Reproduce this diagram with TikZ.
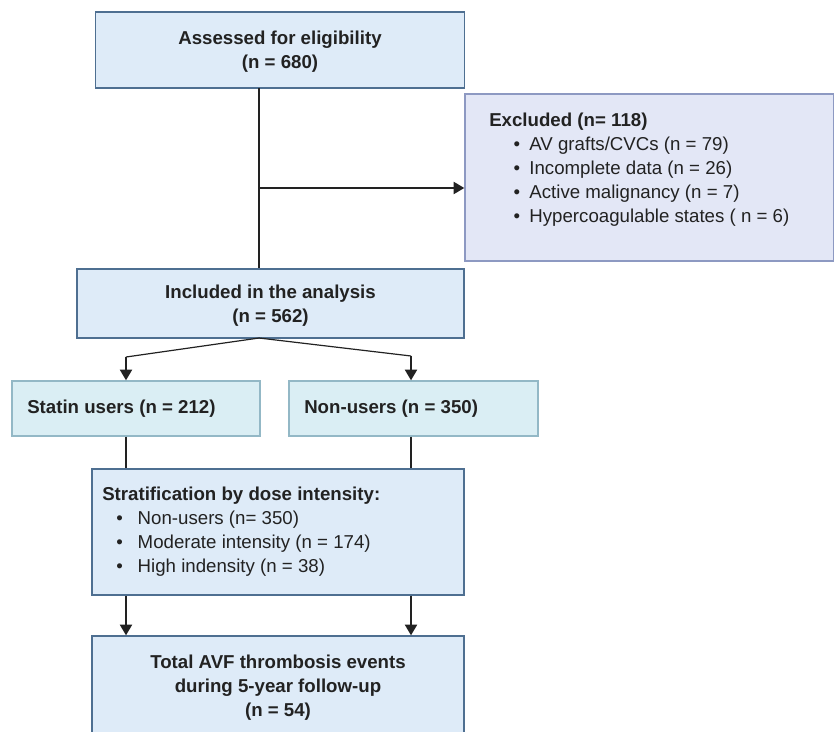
\documentclass[tikz,border=0pt]{standalone}
\usepackage{fontspec}
\setmainfont{Liberation Sans}
\usetikzlibrary{positioning,arrows.meta}

\definecolor{boxfill}{HTML}{DEEBF8}
\definecolor{boxline}{HTML}{4E6F91}
\definecolor{exfill}{HTML}{E3E7F6}
\definecolor{exline}{HTML}{8D99C2}
\definecolor{grpfill}{HTML}{DAEEF4}
\definecolor{grpline}{HTML}{93B8C6}
\definecolor{inkgray}{HTML}{222222}

\newcommand{\px}[1]{#1*0.75pt}
\newcommand{\itm}{\hspace*{1.3em}\textbullet\hspace{0.5em}}
\newcommand{\stitm}{\hspace*{0.75em}\textbullet\hspace{0.8em}}

\begin{document}
\begin{tikzpicture}[x=0.75pt,y=-0.75pt,
    font=\fontsize{14}{18}\selectfont, text=inkgray,
    mainbox/.style={draw=boxline,fill=boxfill,line width=1pt,inner sep=0pt,align=center,text depth=0pt,font=\fontsize{14}{18}\selectfont\bfseries},
    exbox/.style={draw=exline,fill=exfill,line width=1pt,inner sep=0pt},
    grpbox/.style={draw=grpline,fill=grpfill,line width=1pt,inner sep=0pt},
    conn/.style={draw=inkgray,line width=1.5pt},
    thinconn/.style={draw=inkgray,line width=0.9pt},
    tip/.style={-{Triangle[width=9pt,length=8pt]}}]
\useasboundingbox (0,0) rectangle (834,731);

% boxes
\node[mainbox,minimum width=\px{369},minimum height=\px{76}] (assess) at (280,50)
    {Assessed for eligibility\\(n = 680)};
\node[exbox,minimum width=\px{369},minimum height=\px{167}] (excl) at (649.5,177.5) {};
\node[anchor=north west,inner sep=0pt,align=left] (excltxt) at (489,113)
    {\textbf{Excluded (n= 118)}\\
     \itm AV grafts/CVCs (n = 79)\\
     \itm Incomplete data (n = 26)\\
     \itm Active malignancy (n = 7)\\
     \itm Hypercoagulable states ( n = 6)};
\node[mainbox,minimum width=\px{387},minimum height=\px{69}] (incl) at (270.5,303.5)
    {Included in the analysis\\(n = 562)};
\node[grpbox,minimum width=\px{248},minimum height=\px{55}] (statin) at (136,408.5) {};
\node[anchor=west,inner sep=0pt,font=\fontsize{14}{18}\selectfont\bfseries] (statintxt) at (27,408.5)
    {Statin users (n = 212)};
\node[grpbox,minimum width=\px{249},minimum height=\px{55}] (nonuser) at (413.5,408.5) {};
\node[anchor=west,inner sep=0pt,font=\fontsize{14}{18}\selectfont\bfseries] (nonusertxt) at (304,408.5)
    {Non-users (n = 350)};
\node[mainbox,minimum width=\px{372},minimum height=\px{126}] (strat) at (278,532) {};
\node[anchor=north west,inner sep=0pt,align=left] (strattxt) at (102,487)
    {\textbf{Stratification by dose intensity:}\\
     \stitm Non-users (n= 350)\\
     \stitm Moderate intensity (n = 174)\\
     \stitm High indensity (n = 38)};
\node[mainbox,minimum width=\px{372},minimum height=\px{100}] (total) at (278,686)
    {Total AVF thrombosis events\\during 5-year follow-up\\(n = 54)};

% connectors
\coordinate (trunk) at (259,88);
\coordinate (branch) at (259,188);
\coordinate (split) at (259,338);
\coordinate (left) at (126,357);
\coordinate (right) at (411,356);
\draw[conn] (trunk) -- (trunk |- incl.north);
\draw[conn,tip] (branch) -- (branch -| excl.west);
\draw[thinconn] (split) -- (left);
\draw[thinconn] (split) -- (right);
\draw[conn,tip] (left) -- (left |- statin.north);
\draw[conn,tip] (right) -- (right |- nonuser.north);
\draw[conn] (statin.south -| left) -- (strat.north -| left);
\draw[conn] (nonuser.south -| right) -- (strat.north -| right);
\draw[conn,tip] (strat.south -| left) -- (total.north -| left);
\draw[conn,tip] (strat.south -| right) -- (total.north -| right);
\end{tikzpicture}
\end{document}
